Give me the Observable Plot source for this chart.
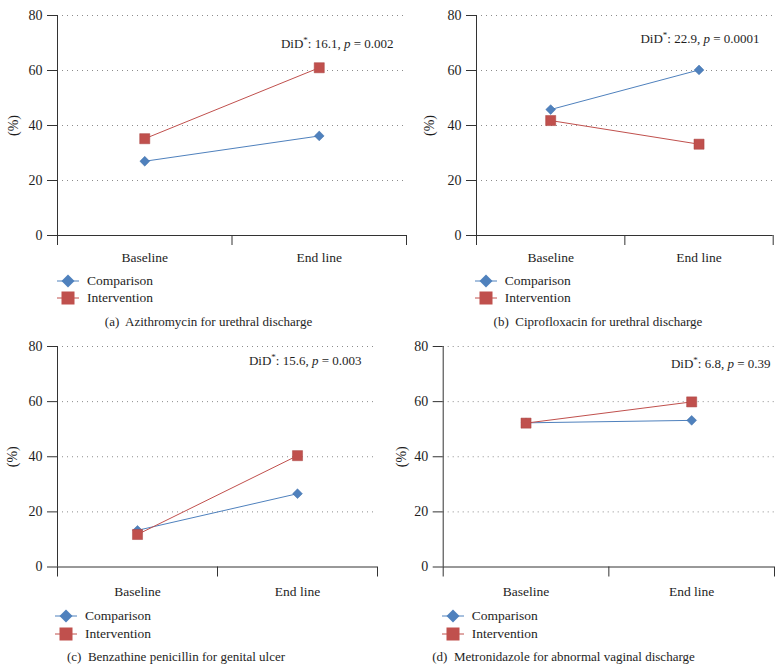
<!DOCTYPE html>
<html><head><meta charset="utf-8">
<script src="https://cdn.jsdelivr.net/npm/d3@7"></script>
<script src="https://cdn.jsdelivr.net/npm/@observablehq/plot@0.6"></script>
<style>
body{margin:0;background:#fff;}
#chart{position:relative;width:783px;height:672px;font-family:"Liberation Serif","Times New Roman",serif;color:#1e1e1e;overflow:hidden;}
.panel{position:absolute;}
.legend{position:absolute;font-size:13.5px;}
.legend .row{height:17.6px;line-height:17.6px;display:flex;align-items:center;white-space:nowrap;}
.legend svg{display:block;margin-right:8px;}
.caption{position:absolute;font-size:13px;line-height:16px;white-space:pre;transform:translateX(-50%);}
</style></head><body><div id="chart"></div>
<script>
// ---- data ----
const periods = ["Baseline", "End line"];
const groups = ["Comparison", "Intervention"];
const panelIds = ["a", "b", "c", "d"];
const captions = [
  "Azithromycin for urethral discharge",
  "Ciprofloxacin for urethral discharge",
  "Benzathine penicillin for genital ulcer",
  "Metronidazole for abnormal vaginal discharge"
];
const comparison = [[27.0, 36.2], [45.8, 60.2], [13.3, 26.6], [52.3, 53.2]];
const intervention = [[35.2, 61.0], [41.8, 33.2], [11.8, 40.4], [52.2, 59.9]];
const didValues = ["16.1", "22.9", "15.6", "6.8"];
const pValues = ["0.002", "0.0001", "0.003", "0.39"];
const yTicks = [0, 20, 40, 60, 80];

// ---- styles / layout ----
const blue = "#4f81bd", red = "#c0504d";
const layout = [
  {left:0,   top:0,   width:410, height:262, ml:57,   mr:4,    mt:15, mb:27,   labelX:14,   xPad:16.5, did:[-13, 28],   legend:{cx:68,    cy:280.7}, caption:{cx:208.5, cy:321.7}},
  {left:390, top:0,   width:393, height:262, ml:86,   mr:10.3, mt:15, mb:27,   labelX:40,   xPad:16.5, did:[-13.7, 23], legend:{cx:485.7, cy:280.7}, caption:{cx:598,   cy:321.7}},
  {left:0,   top:330, width:390, height:263, ml:57,   mr:13,   mt:16, mb:26.5, labelX:13.5, xPad:19.5, did:[-16, 14],   legend:{cx:66,    cy:616},   caption:{cx:176,   cy:656.7}},
  {left:390, top:330, width:393, height:263, ml:52.7, mr:9,    mt:16, mb:26.5, labelX:11.7, xPad:19.5, did:[-4, 17],    legend:{cx:452.7, cy:616},   caption:{cx:563.5, cy:656.7}}
];
const font = "Liberation Serif, Times New Roman, serif";
const chart = document.getElementById("chart");

panelIds.forEach((id, i) => {
  const L = layout[i];
  const rows = [];
  groups.forEach((g, gi) => periods.forEach((p, pi) => {
    rows.push({group: g, x: pi + 0.5, period: p, value: (gi === 0 ? comparison : intervention)[i][pi]});
  }));
  const comp = rows.filter(d => d.group === "Comparison");
  const intv = rows.filter(d => d.group === "Intervention");
  const plot = Plot.plot({
    width: L.width, height: L.height,
    marginLeft: L.ml, marginRight: L.mr, marginTop: L.mt, marginBottom: L.mb,
    style: {fontFamily: font, fontSize: "13px", color: "#1e1e1e", background: "transparent", overflow: "visible"},
    x: {domain: [0, periods.length], axis: null, label: null},
    y: {domain: [0, 80], axis: null, label: null},
    marks: [
      Plot.gridY(yTicks.filter(d => d > 0), {stroke: "#8c8c8c", strokeOpacity: 1, strokeDasharray: "1,4"}),
      Plot.axisY({ticks: yTicks, tickSize: 10, tickPadding: 5, stroke: "#333", fontSize: 14, label: "(%)", labelAnchor: "center", labelArrow: "none", labelOffset: L.ml - L.labelX + 6.5}),
      Plot.axisX({ticks: d3.range(periods.length + 1), tickSize: 10, stroke: "#333", tickFormat: () => "", label: null}),
      Plot.axisX({ticks: periods.map((_, k) => k + 0.5), tickSize: 0, tickPadding: L.xPad, fontSize: 13.5, tickFormat: d => periods[Math.floor(d)], label: null}),
      Plot.ruleX([0], {stroke: "#333"}),
      Plot.ruleY([0], {stroke: "#333"}),
      Plot.line(comp, {x: "x", y: "value", stroke: blue, strokeWidth: 1}),
      Plot.dot(comp, {x: "x", y: "value", symbol: "diamond2", fill: blue, stroke: "#3f6fa8", strokeWidth: 0.5, r: 4.4}),
      Plot.line(intv, {x: "x", y: "value", stroke: red, strokeWidth: 1}),
      Plot.dot(intv, {x: "x", y: "value", symbol: "square", fill: red, stroke: "#a94442", strokeWidth: 0.5, r: 5.7}),
      Plot.text([`DiD*: ${didValues[i]}, p = ${pValues[i]}`], {text: d => d, frameAnchor: "top-right", textAnchor: "end", lineAnchor: "middle", dx: L.did[0], dy: L.did[1], fontSize: 13, fill: "#1e1e1e"})
    ]
  });
  // rich text for the DiD annotation (superscript asterisk, italic p)
  plot.querySelectorAll('g[aria-label="text"] text').forEach(t => {
    const ns = "http://www.w3.org/2000/svg";
    t.textContent = "";
    const parts = [
      ["DiD", {}],
      ["*", {dy: "-5", "font-size": "9"}],
      [`: ${didValues[i]}, `, {dy: "5"}],
      ["p", {"font-style": "italic"}],
      [` = ${pValues[i]}`, {}]
    ];
    parts.forEach(([s, attrs]) => {
      const ts = document.createElementNS(ns, "tspan");
      ts.textContent = s;
      for (const k in attrs) ts.setAttribute(k, attrs[k]);
      t.appendChild(ts);
    });
  });
  plot.classList.add("panel");
  plot.style.left = L.left + "px";
  plot.style.top = L.top + "px";
  plot.style.position = "absolute";
  chart.appendChild(plot);

  // legend
  const leg = document.createElement("div");
  leg.className = "legend";
  leg.style.left = (L.legend.cx - 11) + "px";
  leg.style.top = (L.legend.cy - 8.8) + "px";
  groups.forEach((g, gi) => {
    const row = document.createElement("div");
    row.className = "row";
    const c = gi === 0 ? blue : red;
    const marker = gi === 0
      ? `<polygon points="11,1.5 17.5,8 11,14.5 4.5,8" fill="${c}"/>`
      : `<rect x="4.5" y="1.5" width="13" height="13" fill="${c}"/>`;
    row.innerHTML = `<svg width="22" height="16"><line x1="0" x2="22" y1="8" y2="8" stroke="${c}" stroke-width="1"/>${marker}</svg><span>${g}</span>`;
    leg.appendChild(row);
  });
  chart.appendChild(leg);

  // caption
  const cap = document.createElement("div");
  cap.className = "caption";
  cap.style.left = L.caption.cx + "px";
  cap.style.top = (L.caption.cy - 8) + "px";
  cap.textContent = `(${id})  ${captions[i]}`;
  chart.appendChild(cap);
});
</script></body></html>
